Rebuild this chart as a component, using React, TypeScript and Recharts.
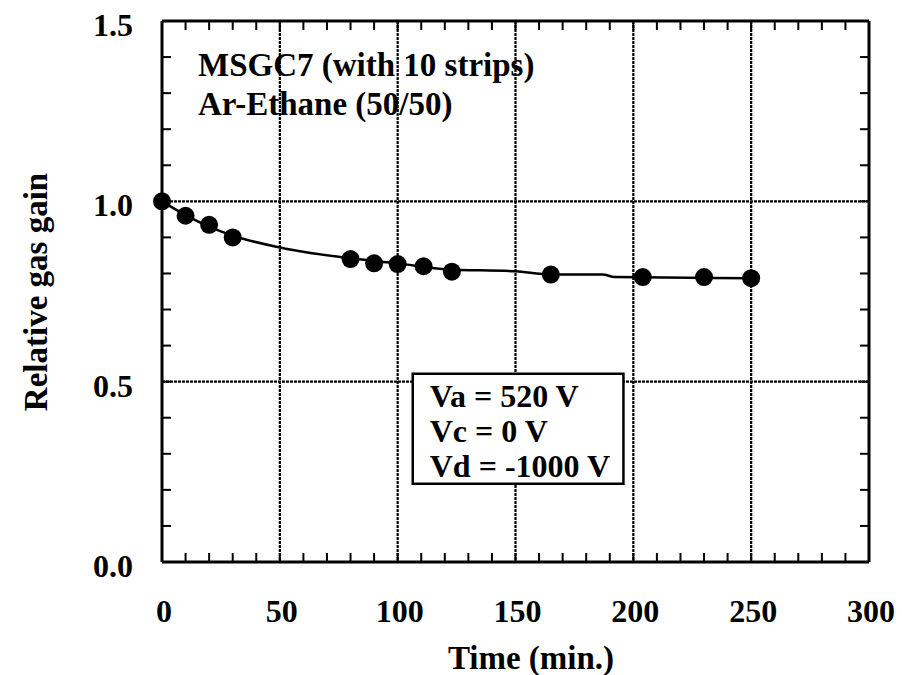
import { ComposedChart, Line, Scatter, XAxis, YAxis, CartesianGrid, ReferenceArea } from 'recharts';

// measured points
const timeMin = [0, 10, 20, 30, 80, 90, 100, 111, 123, 165, 204, 230, 250];
const gasGain = [1.0, 0.96, 0.935, 0.9, 0.84, 0.828, 0.826, 0.82, 0.805, 0.797, 0.79, 0.79, 0.787];

// hand-drawn guide curve
const curveTime = [0, 10, 20, 30, 50, 80, 100, 120, 150, 165, 187, 192, 250];
const curveGain = [1.0, 0.962, 0.93, 0.905, 0.872, 0.842, 0.828, 0.812, 0.806, 0.797, 0.797, 0.79, 0.787];

const xTicks = [0, 10, 20, 30, 40, 50, 60, 70, 80, 90, 100, 110, 120, 130, 140, 150, 160, 170, 180, 190, 200, 210, 220, 230, 240, 250, 260, 270, 280, 290, 300];
const yTicks = [0, 0.1, 0.2, 0.3, 0.4, 0.5, 0.6, 0.7, 0.8, 0.9, 1.0, 1.1, 1.2, 1.3, 1.4, 1.5];
const xGrid = [50, 100, 150, 200, 250];
const yGrid = [0.5, 1.0];

const voltages = ['Va = 520 V', 'Vc = 0 V', 'Vd = -1000 V'];

const points = timeMin.map((t, i) => ({ t, g: gasGain[i] }));
const curve = curveTime.map((t, i) => ({ t, g: curveGain[i] }));

const FONT = "'Liberation Serif', 'Times New Roman', serif";
const TICK_LEN = 9;

const isMajorY = (v: number) => Math.abs(v * 2 - Math.round(v * 2)) < 1e-6;

function BottomTick({ x, y, payload }: any) {
  return (
    <g>
      <line x1={x} x2={x} y1={y} y2={y - TICK_LEN} stroke="#000" strokeWidth={2} />
      {payload.value % 50 === 0 && (
        <text x={x + 2} y={y + 60} textAnchor="middle" fontFamily={FONT} fontWeight="bold" fontSize={32} fill="#000">
          {payload.value}
        </text>
      )}
    </g>
  );
}

function TopTick({ x, y }: any) {
  return <line x1={x} x2={x} y1={y} y2={y + TICK_LEN} stroke="#000" strokeWidth={2} />;
}

function LeftTick({ x, y, payload }: any) {
  return (
    <g>
      <line x1={x} x2={x + TICK_LEN} y1={y} y2={y} stroke="#000" strokeWidth={2} />
      {isMajorY(payload.value) && (
        <text x={x - 29} y={y + 15} textAnchor="end" fontFamily={FONT} fontWeight="bold" fontSize={32} fill="#000">
          {Number(payload.value).toFixed(1)}
        </text>
      )}
    </g>
  );
}

function RightTick({ x, y }: any) {
  return <line x1={x} x2={x - TICK_LEN} y1={y} y2={y} stroke="#000" strokeWidth={2} />;
}

function VoltageBox({ viewBox }: any) {
  const { x, y } = viewBox;
  return (
    <text fontFamily={FONT} fontWeight="bold" fontSize={32} fill="#000">
      {voltages.map((v, i) => (
        <tspan key={v} x={x + 17} y={y + 33 + i * 35}>{v}</tspan>
      ))}
    </text>
  );
}

export default function App() {
  return (
    <div style={{ position: 'absolute', left: 0, top: 0, width: 902, height: 675, background: '#fff' }}>
      <ComposedChart width={902} height={675} margin={{ top: 20, right: 32, bottom: 63, left: 102 }}>
        <CartesianGrid horizontalValues={yGrid} verticalValues={xGrid} stroke="#000" strokeWidth={2.2} strokeDasharray="3 1" />
        <XAxis
          type="number"
          dataKey="t"
          domain={[0, 300]}
          ticks={xTicks}
          interval={0}
          height={50}
          tickSize={0}
          tickMargin={0}
          tickLine={false}
          axisLine={{ stroke: '#000', strokeWidth: 3 }}
          tick={<BottomTick />}
        />
        <XAxis
          xAxisId="top"
          orientation="top"
          type="number"
          dataKey="t"
          domain={[0, 300]}
          ticks={xTicks}
          interval={0}
          height={1}
          tickSize={0}
          tickMargin={0}
          tickLine={false}
          axisLine={{ stroke: '#000', strokeWidth: 3 }}
          tick={<TopTick />}
        />
        <YAxis
          type="number"
          domain={[0, 1.5]}
          ticks={yTicks}
          interval={0}
          width={60}
          tickSize={0}
          tickMargin={0}
          tickLine={false}
          axisLine={{ stroke: '#000', strokeWidth: 3 }}
          tick={<LeftTick />}
        />
        <YAxis
          yAxisId="right"
          orientation="right"
          type="number"
          domain={[0, 1.5]}
          ticks={yTicks}
          interval={0}
          width={1}
          tickSize={0}
          tickMargin={0}
          tickLine={false}
          axisLine={{ stroke: '#000', strokeWidth: 3 }}
          tick={<RightTick />}
        />
        <ReferenceArea
          x1={106.4}
          x2={195.8}
          y1={0.217}
          y2={0.522}
          fill="#fff"
          fillOpacity={1}
          stroke="#000"
          strokeWidth={2.5}
          label={<VoltageBox />}
        />
        {/* invisible twin so the top/right frame axes get drawn */}
        <Line
          data={curve}
          dataKey="g"
          xAxisId="top"
          yAxisId="right"
          stroke="none"
          dot={false}
          activeDot={false}
          legendType="none"
          isAnimationActive={false}
        />
        <Line
          data={curve}
          dataKey="g"
          type="monotone"
          stroke="#000"
          strokeWidth={2.5}
          dot={false}
          activeDot={false}
          isAnimationActive={false}
        />
        <Scatter
          data={points}
          dataKey="g"
          fill="#000"
          isAnimationActive={false}
          shape={(p: any) => <circle cx={p.cx} cy={p.cy} r={9} fill="#000" />}
        />
      </ComposedChart>
      <svg width={902} height={675} style={{ position: 'absolute', left: 0, top: 0, pointerEvents: 'none' }}>
        <text x={198} y={76} fontFamily={FONT} fontWeight="bold" fontSize={33} fill="#000">MSGC7 (with 10 strips)</text>
        <text x={198} y={115} fontFamily={FONT} fontWeight="bold" fontSize={33} fill="#000">Ar-Ethane (50/50)</text>
        <text x={531} y={669} textAnchor="middle" fontFamily={FONT} fontWeight="bold" fontSize={33} fill="#000">Time (min.)</text>
        <text x={0} y={0} transform="translate(47,292) rotate(-90)" textAnchor="middle" fontFamily={FONT} fontWeight="bold" fontSize={33} fill="#000">Relative gas gain</text>
      </svg>
    </div>
  );
}
